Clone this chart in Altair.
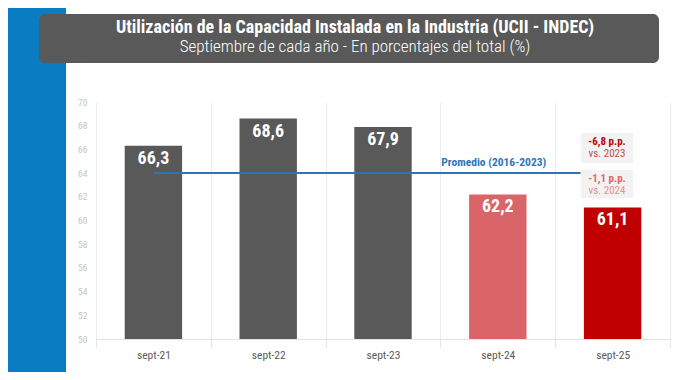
import altair as alt
import pandas as pd

categorias = ["sept-21", "sept-22", "sept-23", "sept-24", "sept-25"]
valores = [66.3, 68.6, 67.9, 62.2, 61.1]
etiquetas = ["66,3", "68,6", "67,9", "62,2", "61,1"]
colores = ["#595959", "#595959", "#595959", "#DA6568", "#C00000"]
promedio = 64.0
promedio_texto = "Promedio (2016-2023)"
ticks_y = list(range(50, 71, 2))
titulo = "Utilización de la Capacidad Instalada en la Industria (UCII - INDEC)"
subtitulo = "Septiembre de cada año - En porcentajes del total (%)"
var_2023 = ["-6,8 p.p.", "vs. 2023"]
var_2024 = ["-1,1 p.p.", "vs. 2024"]

FONT = "Roboto Condensed, Liberation Sans Narrow, DejaVu Sans Condensed, Roboto"
W, H = 574, 237
PAD = {"left": 88, "top": 94, "right": 2, "bottom": 33}

df = pd.DataFrame({"cat": categorias, "val": valores, "lab": etiquetas, "col": colores})
one = pd.DataFrame({"k": [0]})
prom_df = pd.DataFrame({"desde": [categorias[0]], "hasta": [categorias[-1]],
                        "v": [promedio], "t": [promedio_texto]})

xscale = alt.Scale(domain=categorias, paddingInner=0, paddingOuter=0)
yscale = alt.Scale(domain=[50, 70], zero=False, nice=False)

xaxis = alt.Axis(title=None, labelAngle=0, labelColor="#595959", labelFontSize=11.5,
                 labelFont=FONT, domainColor="#e3e3e3", tickColor="#e3e3e3",
                 tickBand="extent", tickSize=8, grid=True, gridColor="#ececec",
                 labelPadding=2)
yaxis = alt.Axis(title=None, values=ticks_y, domain=False, ticks=False, grid=False,
                 labelOverlap=False, labelColor="#c4c4c4", labelFontSize=9.5,
                 labelFont=FONT, labelPadding=9)

blue = alt.Chart(one).mark_rect(color="#0A7CC1").encode(
    x=alt.value(-96), x2=alt.value(-30), y=alt.value(-110), y2=alt.value(290))
title_box = alt.Chart(one).mark_rect(color="#595959", cornerRadius=6).encode(
    x=alt.value(-57), x2=alt.value(563), y=alt.value(-88), y2=alt.value(-39))
title_t = alt.Chart(one).mark_text(color="white", fontWeight="bold", fontSize=18, font=FONT).encode(
    x=alt.value(259), y=alt.value(-74), text=alt.value(titulo))
sub_t = alt.Chart(one).mark_text(color="white", fontSize=17, fontWeight=300, font=FONT).encode(
    x=alt.value(259), y=alt.value(-55), text=alt.value(subtitulo))

bars = alt.Chart(df).mark_bar(width=alt.RelativeBandSize(0.5)).encode(
    x=alt.X("cat:N", scale=xscale, sort=categorias, axis=xaxis),
    y=alt.Y("val:Q", scale=yscale, axis=yaxis),
    y2=alt.datum(50), color=alt.Color("col:N", scale=None))
bar_labels = alt.Chart(df).mark_text(color="white", fontWeight="bold", fontSize=18,
                                     font=FONT, baseline="top", dy=4).encode(
    x=alt.X("cat:N", scale=xscale, sort=categorias, axis=xaxis),
    y=alt.Y("val:Q", scale=yscale, axis=yaxis), text="lab:N")

rule = alt.Chart(prom_df).mark_rule(color="#2E75B6", strokeWidth=2, x2Offset=-32).encode(
    x=alt.X("desde:N", scale=xscale, axis=xaxis), x2="hasta:N",
    y=alt.Y("v:Q", scale=yscale, axis=yaxis))
rule_lab = alt.Chart(prom_df).mark_text(color="#2E75B6", fontWeight="bold", fontSize=11.5,
                                        font=FONT, dy=-10, dx=-4).encode(
    x=alt.X(datum=categorias[3], scale=xscale, axis=xaxis),
    y=alt.Y("v:Q", scale=yscale, axis=yaxis), text="t:N")

def box(y0, y1, lines, c1, c2):
    r = alt.Chart(one).mark_rect(color="#F2F2F2").encode(
        x=alt.value(485), x2=alt.value(537), y=alt.value(y0), y2=alt.value(y1))
    t1 = alt.Chart(one).mark_text(color=c1, fontWeight="bold", fontSize=11, font=FONT).encode(
        x=alt.value(511), y=alt.value(y0 + 9), text=alt.value(lines[0]))
    t2 = alt.Chart(one).mark_text(color=c2, fontSize=11, font=FONT).encode(
        x=alt.value(511), y=alt.value(y0 + 21), text=alt.value(lines[1]))
    return [r, t1, t2]

layers = [blue, title_box, title_t, sub_t, bars, bar_labels, rule, rule_lab]
layers += box(31, 61, var_2023, "#C00000", "#C0504D")
layers += box(68, 96, var_2024, "#E06666", "#F08C8C")

chart = alt.layer(*layers).properties(
    width=W, height=H, padding=PAD, autosize=alt.AutoSizeParams(type="none"),
    background="white"
).configure_view(stroke=None).configure_axis(labelOverlap=False)

chart.save("out.html", embed_options={"renderer": "svg", "actions": False})
